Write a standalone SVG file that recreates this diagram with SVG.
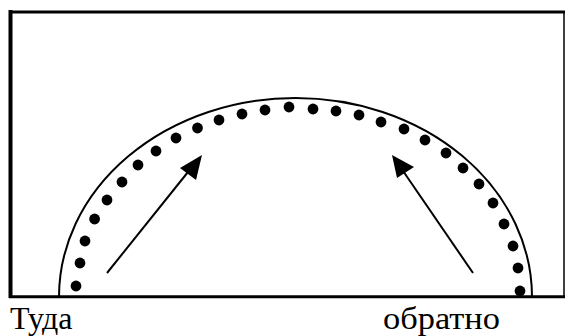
<svg xmlns="http://www.w3.org/2000/svg" width="566" height="336" viewBox="0 0 566 336">
<defs>
<style>
.frame{stroke:#000;fill:none}
.arc{stroke:#000;stroke-width:2;fill:none}
.dot{fill:#000}
.arrow{stroke:#000;stroke-width:2;fill:none}
.head{fill:#000}
</style>
</defs>
<rect width="566" height="336" fill="#fff"/>
<g id="frame">
<line class="frame" x1="10.5" y1="10" x2="10.5" y2="298" stroke-width="4"/>
<line class="frame" x1="9" y1="12" x2="565" y2="12" stroke-width="3"/>
<line class="frame" x1="564" y1="11" x2="564" y2="298" stroke-width="1.5"/>
<line class="frame" x1="9" y1="296.8" x2="565" y2="296.8" stroke-width="3"/>
</g>
<g id="arc">
<path class="arc" d="M59,297 A236.5,199 0 0 1 532,297"/>
</g>
<g id="dots">
<circle class="dot" cx="76" cy="286" r="5.4"/>
<circle class="dot" cx="80" cy="263" r="5.4"/>
<circle class="dot" cx="85" cy="241" r="5.4"/>
<circle class="dot" cx="94.6" cy="219" r="5.4"/>
<circle class="dot" cx="107" cy="200" r="5.4"/>
<circle class="dot" cx="122" cy="182" r="5.4"/>
<circle class="dot" cx="138" cy="165" r="5.4"/>
<circle class="dot" cx="156" cy="151" r="5.4"/>
<circle class="dot" cx="176" cy="138" r="5.4"/>
<circle class="dot" cx="197.5" cy="128" r="5.4"/>
<circle class="dot" cx="219" cy="120" r="5.4"/>
<circle class="dot" cx="242" cy="114" r="5.4"/>
<circle class="dot" cx="265" cy="110" r="5.4"/>
<circle class="dot" cx="289" cy="107" r="5.4"/>
<circle class="dot" cx="313" cy="109" r="5.4"/>
<circle class="dot" cx="336" cy="111" r="5.4"/>
<circle class="dot" cx="359" cy="115" r="5.4"/>
<circle class="dot" cx="381" cy="122" r="5.4"/>
<circle class="dot" cx="404" cy="129" r="5.4"/>
<circle class="dot" cx="425" cy="140" r="5.4"/>
<circle class="dot" cx="446" cy="153" r="5.4"/>
<circle class="dot" cx="463" cy="168" r="5.4"/>
<circle class="dot" cx="479" cy="184" r="5.4"/>
<circle class="dot" cx="493" cy="203" r="5.4"/>
<circle class="dot" cx="504" cy="224" r="5.4"/>
<circle class="dot" cx="513" cy="246" r="5.4"/>
<circle class="dot" cx="518" cy="268" r="5.4"/>
<circle class="dot" cx="520" cy="291" r="5.4"/>
</g>
<g id="connectors">
<g id="arrow-left">
<line class="arrow" x1="107" y1="273" x2="192" y2="167"/>
<polygon class="head" points="202,155 196,180 180,168"/>
</g>
<g id="arrow-right">
<line class="arrow" x1="473" y1="273" x2="401" y2="168"/>
<polygon class="head" points="392,155 414,167 397,178"/>
</g>
</g>
<g id="labels" font-family="Liberation Serif, Times New Roman, serif" font-size="32" fill="#000">
<text x="10" y="328.5">Туда</text>
<text x="383" y="328.5" textLength="117" lengthAdjust="spacingAndGlyphs">обратно</text>
</g>
</svg>
